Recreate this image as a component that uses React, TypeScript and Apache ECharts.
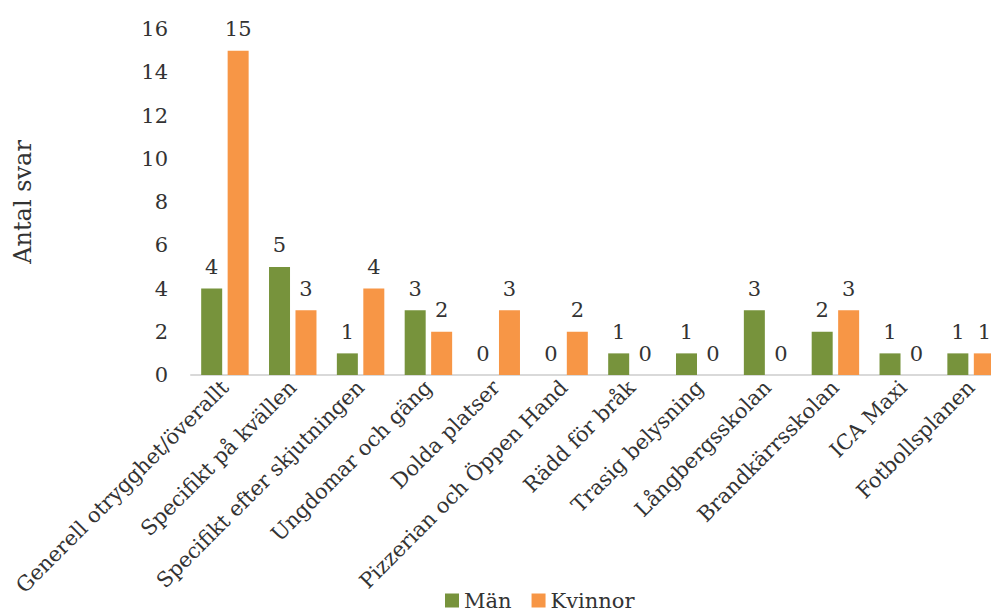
import React, { useEffect, useRef } from "react";
import * as echarts from "echarts";

const categories = [
  "Generell otrygghet/överallt",
  "Specifikt på kvällen",
  "Specifikt efter skjutningen",
  "Ungdomar och gäng",
  "Dolda platser",
  "Pizzerian och Öppen Hand",
  "Rädd för bråk",
  "Trasig belysning",
  "Långbergsskolan",
  "Brandkärrsskolan",
  "ICA Maxi",
  "Fotbollsplanen",
];
const man = [4, 5, 1, 3, 0, 0, 1, 1, 3, 2, 1, 1];
const kvinnor = [15, 3, 4, 2, 3, 2, 0, 0, 0, 3, 0, 1];

const FONT = "DejaVu Serif";
const TXT = "#333333";

export default function App() {
  const ref = useRef<HTMLDivElement>(null);
  useEffect(() => {
    const chart = echarts.init(ref.current!, null, { renderer: "svg" });
    const label = {
      show: true,
      position: "top" as const,
      distance: 11,
      color: TXT,
      fontFamily: FONT,
      fontSize: 21,
    };
    chart.setOption({
      animation: false,
      textStyle: { fontFamily: FONT },
      grid: {
        left: 191,
        top: 29,
        width: 814,
        height: 346,
        containLabel: false,
        outerBoundsMode: "none",
      },
      legend: {
        left: 440,
        bottom: 0,
        itemWidth: 14,
        itemHeight: 14,
        itemGap: 20,
        icon: "rect",
        textStyle: { fontFamily: FONT, fontSize: 21, color: TXT },
        data: ["Män", "Kvinnor"],
      },
      xAxis: {
        type: "category",
        data: categories,
        axisLine: { lineStyle: { color: "#d9d9d9", width: 2 } },
        axisTick: { show: false },
        axisLabel: {
          interval: 0,
          rotate: 45,
          margin: 9,
          color: TXT,
          fontFamily: FONT,
          fontSize: 21,
        },
      },
      yAxis: {
        type: "value",
        min: 0,
        max: 16,
        interval: 2,
        name: "Antal svar",
        nameLocation: "middle",
        nameGap: 156,
        nameTextStyle: { fontFamily: FONT, fontSize: 24, color: TXT },
        axisLine: { show: false },
        axisTick: { show: false },
        splitLine: { show: false },
        axisLabel: { margin: 23, color: TXT, fontFamily: FONT, fontSize: 21 },
      },
      series: [
        {
          name: "Män",
          type: "bar",
          data: man,
          barWidth: 21,
          barGap: "26%",
          itemStyle: { color: "#77933c" },
          label,
        },
        {
          name: "Kvinnor",
          type: "bar",
          data: kvinnor,
          barWidth: 21,
          itemStyle: { color: "#f79646" },
          label,
        },
      ],
    });
    return () => chart.dispose();
  }, []);
  return <div ref={ref} style={{ width: 991, height: 616, position: "absolute", left: 0, top: 0 }} />;
}
